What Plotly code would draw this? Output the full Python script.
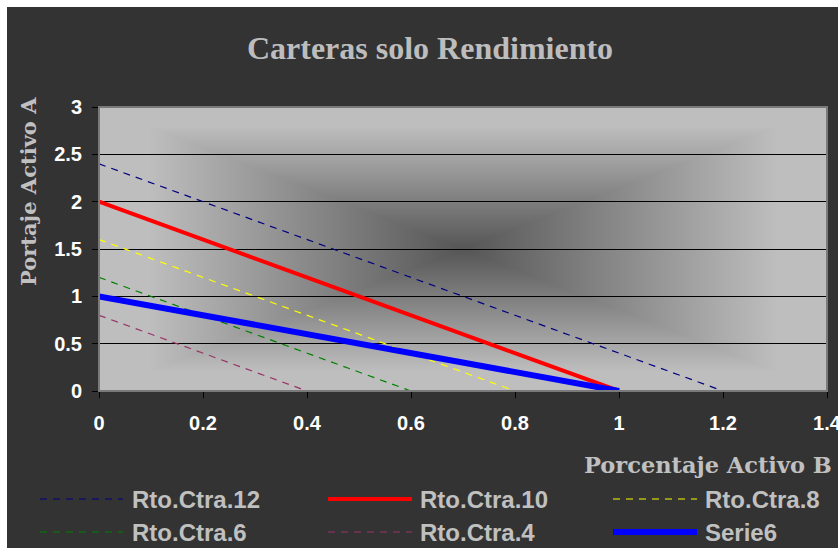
import base64
import struct
import zlib

import numpy as np
import plotly.graph_objects as go

# Portfolio lines: weight of asset B (x) vs. weight of asset A (y)
series_names = ["Rto.Ctra.12", "Rto.Ctra.10", "Rto.Ctra.8", "Rto.Ctra.6", "Rto.Ctra.4", "Serie6"]
rto12_x = [0, 1.2]
rto12_y = [2.4, 0]
rto10_x = [0, 1.0]
rto10_y = [2.0, 0]
rto8_x = [0, 0.8]
rto8_y = [1.6, 0]
rto6_x = [0, 0.6]
rto6_y = [1.2, 0]
rto4_x = [0, 0.4]
rto4_y = [0.8, 0]
serie6_x = [0, 1.0]
serie6_y = [1.0, 0]

series_x = [rto12_x, rto10_x, rto8_x, rto6_x, rto4_x, serie6_x]
series_y = [rto12_y, rto10_y, rto8_y, rto6_y, rto4_y, serie6_y]

x_range = [0, 1.4]
y_range = [0, 3]

styles = [
    dict(color="#000080", width=1.2, dash="7px,6px"),
    dict(color="#FF0000", width=4, dash="solid"),
    dict(color="#FFFF00", width=1.2, dash="7px,6px"),
    dict(color="#008000", width=1.2, dash="7px,6px"),
    dict(color="#993366", width=1.2, dash="7px,6px"),
    dict(color="#0000FF", width=6, dash="solid"),
]

W, H = 838, 548
L, R, T, B = 99, 827, 107, 391  # plot area in pixels


def px(xp):
    return (xp - L) / (R - L)


def py(yp):
    return (B - yp) / (B - T)


def gray_png(arr):
    """Encode a 2-D uint8 array as a grayscale PNG data URI."""
    h, w = arr.shape
    raw = b"".join(b"\x00" + arr[i].tobytes() for i in range(h))

    def chunk(tag, data):
        c = struct.pack(">I", len(data)) + tag + data
        return c + struct.pack(">I", zlib.crc32(tag + data) & 0xFFFFFFFF)

    png = (b"\x89PNG\r\n\x1a\n"
           + chunk(b"IHDR", struct.pack(">IIBBBBB", w, h, 8, 0, 0, 0, 0))
           + chunk(b"IDAT", zlib.compress(raw, 9))
           + chunk(b"IEND", b""))
    return "data:image/png;base64," + base64.b64encode(png).decode()


# rectangular "from centre" gradient used as the plot-area fill
pw, ph = R - L, B - T
u = (np.arange(pw) + 0.5) / pw
v = (np.arange(ph) + 0.5) / ph
U, V = np.meshgrid(u, v)
d = np.maximum(np.abs(U - 0.5), np.abs(V - 0.5)) * 2
t = np.clip(d / 0.86, 0, 1)
centre, edge = 86, 190
shade = (centre + (edge - centre) * t).astype(np.uint8)
bg_uri = gray_png(shade)

fig = go.Figure()

for name, xs, ys, st in zip(series_names, series_x, series_y, styles):
    fig.add_trace(go.Scatter(
        x=xs, y=ys, mode="lines", name=name, line=st, showlegend=False,
    ))

shapes = []
annotations = []

# white margin strips along top and left of the canvas
shapes.append(dict(type="rect", xref="paper", yref="paper", layer="below",
                   x0=px(-5), x1=px(W + 5), y0=py(7), y1=py(-5),
                   fillcolor="white", line=dict(width=0)))
shapes.append(dict(type="rect", xref="paper", yref="paper", layer="below",
                   x0=px(-5), x1=px(7), y0=py(H + 5), y1=py(-5),
                   fillcolor="white", line=dict(width=0)))

# plot area frame
shapes.append(dict(type="rect", xref="paper", yref="paper", layer="above",
                   x0=0, x1=1, y0=0, y1=1, line=dict(color="#7A7A7A", width=2)))

# legend drawn as a 3 x 2 grid below the axis
col_line = [(40, 123), (328, 412), (613, 697)]
col_text = [130, 418, 703]
row_y = [499, 532]
for i, (name, st) in enumerate(zip(series_names, styles)):
    r, c = divmod(i, 3)
    x0, x1 = col_line[c]
    shapes.append(dict(type="line", xref="paper", yref="paper",
                       x0=px(x0), x1=px(x1), y0=py(row_y[r]), y1=py(row_y[r]),
                       line=dict(color=st["color"], width=st["width"], dash=st["dash"])))
    annotations.append(dict(text=name, xref="paper", yref="paper",
                            x=px(col_text[c]), y=py(row_y[r]),
                            xanchor="left", yanchor="middle", showarrow=False,
                            font=dict(family="Liberation Sans, Arial", size=24,
                                      color="#C0C0C0", weight="bold")))

# axis titles
annotations.append(dict(text="Porcentaje Activo B", xref="paper", yref="paper",
                        x=px(582), y=py(465), xanchor="left", yanchor="middle",
                        showarrow=False,
                        font=dict(family="DejaVu Serif", size=22.5, color="#C0C0C0",
                                  weight="bold")))
annotations.append(dict(text="Portaje Activo A", xref="paper", yref="paper",
                        x=px(28), y=py(192), xanchor="center", yanchor="middle",
                        textangle=-90, showarrow=False,
                        font=dict(family="DejaVu Serif", size=21, color="#C0C0C0",
                                  weight="bold")))

tick_font = dict(family="Liberation Sans, Arial", size=20, color="white", weight="bold")

fig.update_layout(
    width=W, height=H,
    margin=dict(l=L, r=W - R, t=T, b=H - B, pad=0, autoexpand=False),
    paper_bgcolor="#333333",
    plot_bgcolor="#C0C0C0",
    images=[dict(source=bg_uri, xref="paper", yref="paper", x=0, y=1,
                 sizex=1, sizey=1, xanchor="left", yanchor="top",
                 sizing="stretch", layer="below")],
    title=dict(text="Carteras solo Rendimiento", x=430 / W, xanchor="center",
               y=1 - 48 / H, yanchor="middle", xref="container", yref="container",
               font=dict(family="Liberation Serif, Times New Roman", size=32,
                         color="#BDBDBD", weight="bold")),
    xaxis=dict(range=[x_range[0], x_range[1] + 1e-9], dtick=0.2, tick0=0,
               showgrid=False, zeroline=False, automargin=False,
               showline=True, linecolor="black", linewidth=1,
               ticks="outside", ticklen=6, tickcolor="black", tickwidth=1,
               tickfont=tick_font, ticklabelstandoff=8,
               ticklabeloverflow="allow"),
    yaxis=dict(range=y_range, dtick=0.5, tick0=0, showgrid=True, gridcolor="black",
               gridwidth=1, zeroline=False, showline=False, automargin=False,
               ticks="outside", ticklen=6, tickcolor="black", tickwidth=1,
               tickfont=tick_font, ticklabelstandoff=6),
    shapes=shapes,
    annotations=annotations,
    showlegend=False,
)

fig.write_html("out.html")
